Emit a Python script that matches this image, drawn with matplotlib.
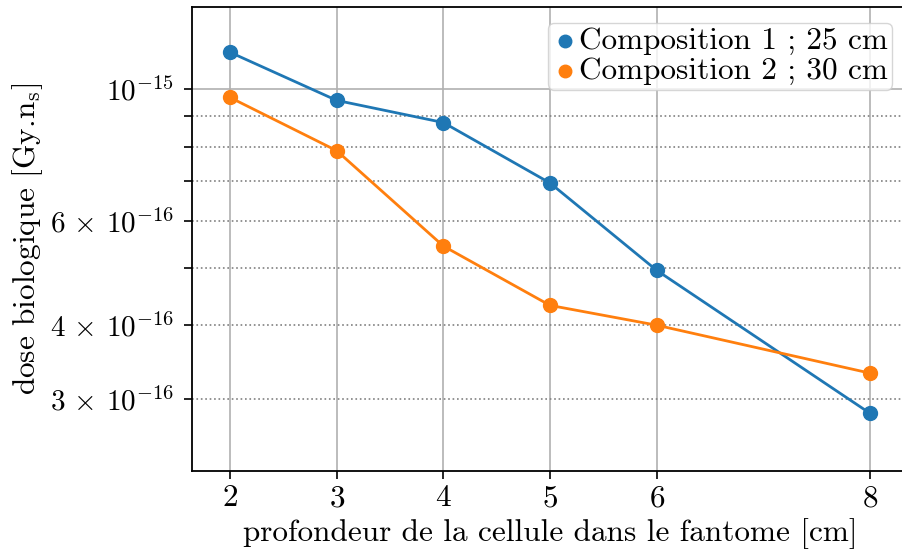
import numpy as np
import matplotlib
matplotlib.use("Agg")
import matplotlib.pyplot as plt
from matplotlib.ticker import FixedLocator, FixedFormatter

plt.rcParams['font.family'] = 'serif'
plt.rcParams['font.serif'] = ['cmr10']
plt.rcParams['mathtext.fontset'] = 'cm'
plt.rcParams['axes.formatter.use_mathtext'] = True
plt.rcParams['axes.unicode_minus'] = False

# donnees
profondeur = [2, 3, 4, 5, 6, 8]
dose_c1 = [1.155e-15, 9.58e-16, 8.79e-16, 6.95e-16, 4.95e-16, 2.84e-16]
dose_c2 = [9.69e-16, 7.88e-16, 5.44e-16, 4.32e-16, 4.00e-16, 3.32e-16]
labels = ['Composition 1 ; 25 cm', 'Composition 2 ; 30 cm']
couleurs = ['#1f77b4', '#ff7f0e']
ytick_min = [3e-16, 4e-16, 5e-16, 6e-16, 7e-16, 8e-16, 9e-16]
ytick_min_lab = [r'$3\,\times\,10^{-16}$', r'$4\,\times\,10^{-16}$', '', r'$6\,\times\,10^{-16}$', '', '', '']

fig = plt.figure(figsize=(9.03, 5.55), dpi=100)
ax = fig.add_axes([192/903, (555-471)/555, (908-192)/903, (471-7)/555])

for y, lab, c in zip([dose_c1, dose_c2], labels, couleurs):
    ax.plot(profondeur, y, color=c, lw=2, zorder=3)
    ax.scatter(profondeur, y, color=c, s=100, label=lab, zorder=4)

ax.set_yscale('log')
ax.set_xlim(1.644, 8.356)
ax.set_ylim(2.27e-16, 1.377e-15)
ax.set_xticks(profondeur)
ax.yaxis.set_major_locator(FixedLocator([1e-15]))
ax.yaxis.set_major_formatter(FixedFormatter([r'$10^{-15}$']))
ax.yaxis.set_minor_locator(FixedLocator(ytick_min))
ax.yaxis.set_minor_formatter(FixedFormatter(ytick_min_lab))

ax.tick_params(axis='both', which='both', labelsize=22.5, length=6, width=1.2)
ax.tick_params(axis='y', which='both', pad=7, labelsize=21)
ax.grid(True, which='major', color='#b0b0b0', lw=1.2)
ax.grid(True, which='minor', axis='y', color='gray', ls=':', lw=1.2)
for s in ax.spines.values():
    s.set_linewidth(1.3)

ax.set_xlabel('profondeur de la cellule dans le fantome [cm]', fontsize=22.5)
ax.set_ylabel(r'dose biologique [Gy.n$_\mathrm{s}$]', fontsize=22.5)
ax.yaxis.set_label_coords(-0.205, 0.5)

ax.legend(loc='upper right', fontsize=22.5, handletextpad=0.05, borderpad=0.15,
          labelspacing=0.05, borderaxespad=0.5, handlelength=0.8, markerscale=0.9)

fig.savefig('out.png', dpi=100)
